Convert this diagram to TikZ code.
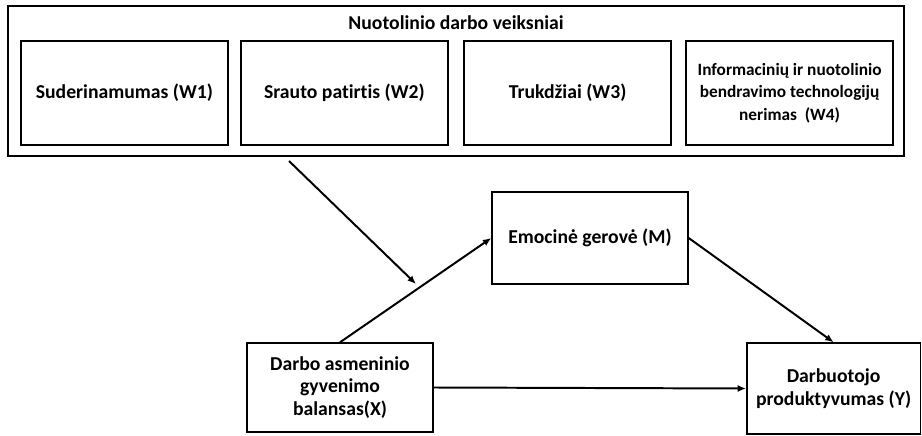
\documentclass[tikz,border=0pt]{standalone}
\usepackage{fontspec}
\setmainfont[Ligatures=NoCommon]{Carlito}
\usetikzlibrary{arrows.meta}

\begin{document}
\begin{tikzpicture}\tikzset{box/.style = {shape=rectangle, draw, line width=1pt, align=center, inner sep=2pt, font=\fontsize{14}{16}\selectfont\bfseries}, arrow/.style = {line width=1.4pt, -{Latex[length=6pt,width=5pt]}}}

		\useasboundingbox (0,0) rectangle (23.05,10.875);

		\node[box, minimum width=22.4cm, minimum height=3.75cm] (F) at (11.4,8.85) {};
		\node[font=\fontsize{14}{16}\selectfont\bfseries] (T) at (11.4,10.3) {Nuotolinio darbo veiksniai};

		\node[box, minimum width=5.175cm, minimum height=2.6cm] (W_1) at (3.11,8.55) {Suderinamumas (W1)};
		\node[box, minimum width=5.175cm, minimum height=2.6cm] (W_2) at (8.61,8.55) {Srauto patirtis (W2)};
		\node[box, minimum width=5.175cm, minimum height=2.6cm] (W_3) at (14.19,8.55) {Trukdžiai (W3)};
		\node[box, minimum width=5.175cm, minimum height=2.6cm, font=\fontsize{12.3}{16}\selectfont\bfseries] (W_4) at (19.74,8.55) {Informacinių ir nuotolinio\\ bendravimo technologijų\\ nerimas~~(W4)};

		\node[box, minimum width=4.9cm, minimum height=2.3cm] (M) at (14.75,4.925) {Emocinė gerovė (M)};
		\node[box, minimum width=4.65cm, minimum height=2.225cm] (X) at (8.5,1.1875) {Darbo asmeninio\\ gyvenimo\\ balansas(X)};
		\node[box, minimum width=4.34cm, minimum height=2.275cm] (Y) at (20.84,1.1625) {Darbuotojo\\ produktyvumas (Y)};

		\coordinate (mod_s) at (7.225,6.85);
		\coordinate (mod_e) at (10.4,3.775);

		\draw[arrow] (mod_s) -- (mod_e);
		\draw[arrow] (X.north) -- (M.west);
		\draw[arrow] (M.east) -- (Y.north);
		\draw[arrow] (X.east) -- (Y.west);
	\end{tikzpicture}
\end{document}
